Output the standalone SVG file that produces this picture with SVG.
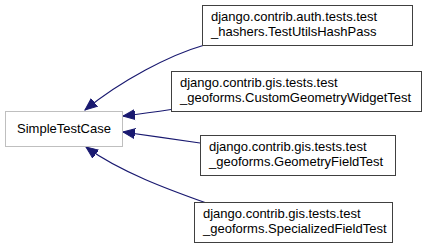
<svg xmlns="http://www.w3.org/2000/svg" width="431" height="248" viewBox="0 0 431 248">
  <style>
    .bg { fill: #ffffff; }
    .node rect { fill: #ffffff; stroke: #404040; stroke-width: 1; }
    .node.undoc rect { stroke: #bfbfbf; }
    .node text { font-family: "Liberation Sans", Arial, sans-serif; font-size: 13px; fill: #000000; }
    .edge { fill: none; stroke: #191970; stroke-width: 1.2; marker-end: url(#inherit); }
  </style>
  <defs>
    <marker id="inherit" markerUnits="userSpaceOnUse" markerWidth="14" markerHeight="12" viewBox="0 -6 14 12" refX="12" refY="0" orient="auto">
      <path d="M0,-5 L12,0 L0,5 Z" fill="#191970" stroke="#191970" stroke-width="1"/>
    </marker>
  </defs>
  <rect class="bg" x="0" y="0" width="431" height="248"/>

  <g id="edges">
    <path class="edge" d="M203,45.5 C170,55 122,80 85,110"/>
    <path class="edge" d="M171,109.5 C155,112 140,114 123,116"/>
    <path class="edge" d="M200,143 C180,140 145,135 123,132"/>
    <path class="edge" d="M205,202.5 C170,190 120,172 86,147"/>
  </g>

  <g id="SimpleTestCase" class="node undoc">
    <rect x="5.5" y="111.5" width="117" height="35"/>
    <text x="64" y="133" text-anchor="middle">SimpleTestCase</text>
  </g>

  <g id="TestUtilsHashPass" class="node">
    <rect x="202.5" y="5.5" width="210" height="40"/>
    <text x="211" y="21">django.contrib.auth.tests.test</text>
    <text x="211" y="36">_hashers.TestUtilsHashPass</text>
  </g>

  <g id="CustomGeometryWidgetTest" class="node">
    <rect x="171.5" y="71.5" width="250" height="40"/>
    <text x="180" y="87">django.contrib.gis.tests.test</text>
    <text x="180" y="102">_geoforms.CustomGeometryWidgetTest</text>
  </g>

  <g id="GeometryFieldTest" class="node">
    <rect x="200.5" y="135.5" width="195" height="40"/>
    <text x="209" y="151">django.contrib.gis.tests.test</text>
    <text x="209" y="166">_geoforms.GeometryFieldTest</text>
  </g>

  <g id="SpecializedFieldTest" class="node">
    <rect x="194.5" y="202.5" width="198" height="40"/>
    <text x="203" y="218">django.contrib.gis.tests.test</text>
    <text x="203" y="233">_geoforms.SpecializedFieldTest</text>
  </g>
</svg>
